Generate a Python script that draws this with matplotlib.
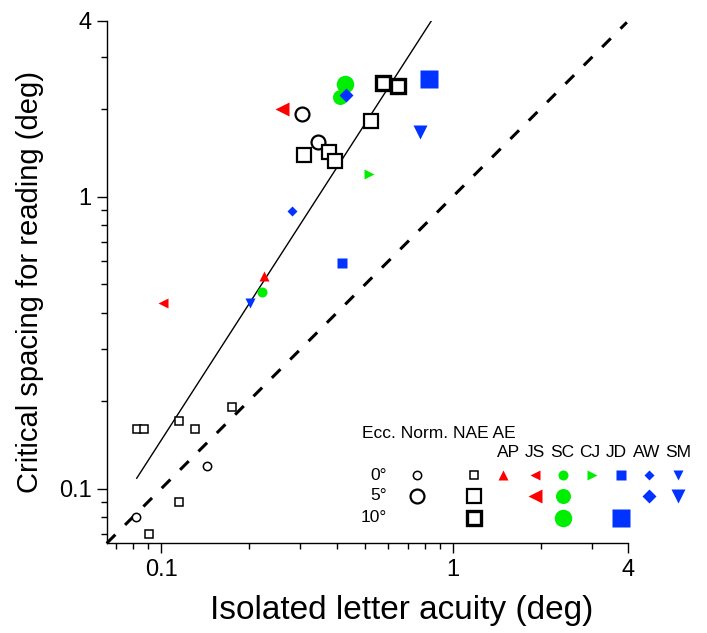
import matplotlib
matplotlib.use('Agg')
import matplotlib.pyplot as plt
from matplotlib.ticker import FixedLocator, NullFormatter

plt.rcParams['font.family'] = ['Liberation Sans', 'DejaVu Sans']

# data: isolated letter acuity (deg) vs critical spacing for reading (deg)
# normal vision, open circles
norm_acuity_0 = [0.0822, 0.143]
norm_spacing_0 = [0.080, 0.120]
norm_acuity_5 = [0.304, 0.344]
norm_spacing_5 = [1.92, 1.54]

# normal, non-amblyopic eye, open squares
nae_acuity_0 = [0.0826, 0.0871, 0.115, 0.131, 0.175, 0.115, 0.0906]
nae_spacing_0 = [0.160, 0.160, 0.171, 0.160, 0.190, 0.090, 0.070]
nae_acuity_5 = [0.309, 0.376, 0.393, 0.522]
nae_spacing_5 = [1.39, 1.42, 1.32, 1.82]
nae_acuity_10 = [0.574, 0.649]
nae_spacing_10 = [2.45, 2.40]

# amblyopic eyes, one marker per observer
SUBJECTS = ['AP', 'JS', 'SC', 'CJ', 'JD', 'AW', 'SM']
ae_subject = ['AP', 'JS', 'JS', 'SC', 'SC', 'SC', 'CJ', 'JD', 'JD', 'AW', 'AW', 'SM', 'SM']
ae_ecc = [0, 0, 5, 0, 5, 10, 0, 0, 10, 0, 5, 0, 5]
ae_acuity = [0.225, 0.1014, 0.260, 0.221, 0.409, 0.428, 0.515, 0.416, 0.827, 0.281, 0.430, 0.201, 0.769]
ae_spacing = [0.533, 0.431, 2.00, 0.471, 2.20, 2.42, 1.19, 0.592, 2.52, 0.893, 2.22, 0.431, 1.67]

# fitted power law through the AE data: spacing = FIT_COEF * acuity ** FIT_EXP
FIT_COEF = 5.2
FIT_EXP = 1.55
FIT_RANGE = [0.0824, 0.9]

# styles
RED = '#ff0000'
GREEN = '#00ee00'
BLUE = '#0033ff'
SUBJ_STYLE = {
    'AP': ('^', RED),
    'JS': ('<', RED),
    'SC': ('o', GREEN),
    'CJ': ('>', GREEN),
    'JD': ('s', BLUE),
    'AW': ('D', BLUE),
    'SM': ('v', BLUE),
}
ECC_SCALE = {0: 1.0, 5: 1.5, 10: 1.75}
BASE_MS = {'^': 7, '<': 7, '>': 7, 'v': 7, 'o': 7.2, 's': 7, 'D': 5}
OPEN_KW = dict(mfc='white', mec='black', ls='none')
LIM = (0.065, 4)

W, H = 707, 633


def px(x, y):
    # figure pixel -> figure fraction
    return x / W, 1 - y / H


fig = plt.figure(figsize=(7.07, 6.33), dpi=100)
ax = fig.add_axes([0.1509, 0.1417, 0.738, 0.8256])
ax.set_xscale('log')
ax.set_yscale('log')
ax.set_xlim(LIM)
ax.set_ylim(LIM)

# identity line and fit
ax.plot([LIM[0], 3.95], [LIM[0], 3.95], color='black', lw=2.2, dashes=(4, 4.5), clip_on=False)
fx = [FIT_RANGE[0], FIT_RANGE[1]]
ax.plot(fx, [FIT_COEF * v ** FIT_EXP for v in fx], color='black', lw=1.0)

# open markers
ax.plot(norm_acuity_0, norm_spacing_0, 'o', ms=6, mew=1.1, **OPEN_KW)
ax.plot(norm_acuity_5, norm_spacing_5, 'o', ms=10, mew=1.6, **OPEN_KW)
ax.plot(nae_acuity_0, nae_spacing_0, 's', ms=6, mew=1.1, **OPEN_KW)
ax.plot(nae_acuity_5, nae_spacing_5, 's', ms=10, mew=1.6, **OPEN_KW)
ax.plot(nae_acuity_10, nae_spacing_10, 's', ms=10.5, mew=2.4, **OPEN_KW)

# filled markers for amblyopic eyes
for subj in SUBJECTS:
    mk, col = SUBJ_STYLE[subj]
    for s, e, xa, ys in zip(ae_subject, ae_ecc, ae_acuity, ae_spacing):
        if s != subj:
            continue
        ax.plot(xa, ys, mk, color=col, mec='none', ms=BASE_MS[mk] * ECC_SCALE[e])

# axes styling
for side in ['top', 'right']:
    ax.spines[side].set_visible(False)
for side in ['left', 'bottom']:
    ax.spines[side].set_linewidth(1.0)
for axis in [ax.xaxis, ax.yaxis]:
    axis.set_major_locator(FixedLocator([0.1, 1, 4]))
    axis.set_minor_locator(FixedLocator([0.07, 0.08, 0.09, 0.2, 0.3, 0.4, 0.5, 0.6, 0.7, 0.8, 0.9, 2, 3]))
    axis.set_minor_formatter(NullFormatter())
ax.set_xticklabels(['0.1', '1', '4'])
ax.set_yticklabels(['0.1', '1', '4'])
ax.tick_params(which='major', direction='out', length=7, width=1, labelsize=17, pad=4)
ax.tick_params(which='minor', direction='out', length=4, width=1)

fig.text(*px(402, 610), 'Isolated letter acuity (deg)', fontsize=24, ha='center', va='center')
fig.text(*px(30, 282), 'Critical spacing for reading (deg)', fontsize=21, ha='center', va='center',
         rotation=90)

# hand-built legend
row_y = {0: 475, 5: 496, 10: 517.7}
col_x = {'AP': 502.7, 'JS': 535, 'SC': 562.7, 'CJ': 591.7, 'JD': 620.7, 'AW': 649.3, 'SM': 678.3}
lab_x = {'AP': 508.3, 'JS': 535, 'SC': 562.7, 'CJ': 590, 'JD': 616.7, 'AW': 646.7, 'SM': 678.3}
LEG_FS = 12.5
tf = fig.transFigure
fig.text(*px(361.7, 434), 'Ecc. Norm. NAE AE', fontsize=LEG_FS, ha='left', va='center')
for subj in SUBJECTS:
    fig.text(*px(lab_x[subj], 452.7), subj, fontsize=LEG_FS, ha='center', va='center')
for e in ECC_SCALE:
    fig.text(*px(387, row_y[e]), '%d\u00b0' % e, fontsize=LEG_FS, ha='right', va='center')

ax.plot(*px(416.7, row_y[0]), 'o', ms=6, mew=1.1, transform=tf, clip_on=False, **OPEN_KW)
ax.plot(*px(416.7, row_y[5]), 'o', ms=10, mew=1.6, transform=tf, clip_on=False, **OPEN_KW)
ax.plot(*px(474, row_y[0]), 's', ms=6, mew=1.1, transform=tf, clip_on=False, **OPEN_KW)
ax.plot(*px(474, row_y[5]), 's', ms=10, mew=1.6, transform=tf, clip_on=False, **OPEN_KW)
ax.plot(*px(474, row_y[10]), 's', ms=10.5, mew=2.4, transform=tf, clip_on=False, **OPEN_KW)
shown = set()
for s, e in zip(ae_subject, ae_ecc):
    if (s, e) in shown:
        continue
    shown.add((s, e))
    mk, col = SUBJ_STYLE[s]
    ax.plot(*px(col_x[s], row_y[e]), mk, color=col, mec='none', ms=BASE_MS[mk] * ECC_SCALE[e],
            transform=tf, clip_on=False)

plt.savefig('out.png', dpi=100)
